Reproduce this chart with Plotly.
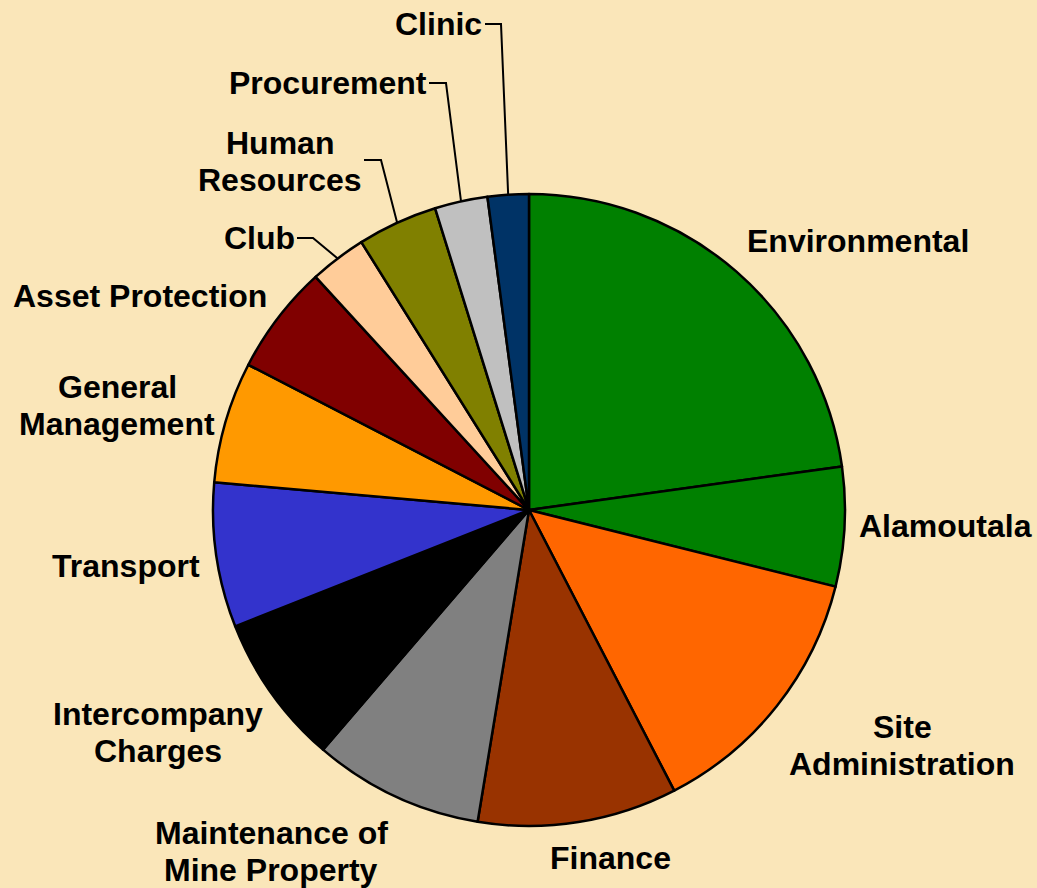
import math
import plotly.graph_objects as go

# Cost share by department (% of total)
categories = [
    "Environmental", "Alamoutala", "Site Administration", "Finance",
    "Maintenance of Mine Property", "Intercompany Charges", "Transport",
    "General Management", "Asset Protection", "Club", "Human Resources",
    "Procurement", "Clinic",
]
shares = [22.8, 6.1, 13.5, 10.2, 8.7, 7.7, 7.4, 6.2, 5.6, 2.9, 4.1, 2.7, 2.1]
colors = [
    "#008000", "#008000", "#FF6600", "#993300", "#808080", "#000000",
    "#3333CC", "#FF9900", "#800000", "#FFCC99", "#808000", "#C0C0C0",
    "#003366",
]

# Label text, line by line
label_lines = {
    "Environmental": ["Environmental"],
    "Alamoutala": ["Alamoutala"],
    "Site Administration": ["Site", "Administration"],
    "Finance": ["Finance"],
    "Maintenance of Mine Property": ["Maintenance of", "Mine Property"],
    "Intercompany Charges": ["Intercompany", "Charges"],
    "Transport": ["Transport"],
    "General Management": ["General", "Management"],
    "Asset Protection": ["Asset Protection"],
    "Club": ["Club"],
    "Human Resources": ["Human", "Resources"],
    "Procurement": ["Procurement"],
    "Clinic": ["Clinic"],
}

# ---- layout (pixels) ----
W, H = 1037, 888
CX, CY, R = 529, 510, 316
BG = "#FAE6B9"
FONT_SIZE = 32
LINE_GAP = 37

# label block centres
label_pos = {
    "Environmental": (858, 241),
    "Alamoutala": (945, 526),
    "Site Administration": (902, 745),
    "Finance": (610, 858),
    "Maintenance of Mine Property": (271, 851),
    "Intercompany Charges": (158, 732),
    "Transport": (126, 566),
    "General Management": (117, 405),
    "Asset Protection": (140, 296),
    "Club": (259, 238),
    "Human Resources": (280, 161),
    "Procurement": (328, 83),
    "Clinic": (438, 24),
}
# leader lines: (start x, y, elbow x) then down to the slice edge
leaders = {
    "Clinic": (485, 24, 501),
    "Procurement": (429, 83, 446),
    "Human Resources": (364, 160, 381),
    "Club": (297, 238, 313),
}


def px(x):
    return x / W


def py(y):
    return 1 - y / H


fig = go.Figure(
    go.Pie(
        labels=categories,
        values=shares,
        sort=False,
        direction="clockwise",
        rotation=0,
        textinfo="none",
        hoverinfo="label+percent",
        marker=dict(colors=colors, line=dict(color="#000000", width=2.5)),
        domain=dict(x=[px(CX - R), px(CX + R)], y=[py(CY + R), py(CY - R)]),
        showlegend=False,
    )
)

annotations = []
for cat in categories:
    lx, ly = label_pos[cat]
    lines = label_lines[cat]
    n = len(lines)
    for i, line in enumerate(lines):
        yy = ly + (i - (n - 1) / 2) * LINE_GAP
        annotations.append(
            dict(
                x=px(lx), y=py(yy), xref="paper", yref="paper",
                text=line, showarrow=False,
                xanchor="center", yanchor="middle",
                font=dict(family="Liberation Sans, Arial", size=FONT_SIZE,
                          color="#000000", weight="bold"),
            )
        )

# slice mid-angles (clockwise from 12 o'clock) for leader endpoints
total = sum(shares)
shapes = []
cum = 0.0
for cat, v in zip(categories, shares):
    mid = (cum + v / 2) / total * 2 * math.pi
    cum += v
    if cat in leaders:
        sx, sy, ex = leaders[cat]
        edge_x = CX + R * math.sin(mid)
        edge_y = CY - R * math.cos(mid)
        path = (f"M {px(sx)},{py(sy)} L {px(ex)},{py(sy)} "
                f"L {px(edge_x)},{py(edge_y)}")
        shapes.append(dict(type="path", path=path, xref="paper", yref="paper",
                           line=dict(color="#000000", width=2)))

fig.update_layout(
    width=W, height=H,
    margin=dict(l=0, r=0, t=0, b=0),
    paper_bgcolor=BG, plot_bgcolor=BG,
    annotations=annotations,
    shapes=shapes,
)

fig.write_html("out.html")
